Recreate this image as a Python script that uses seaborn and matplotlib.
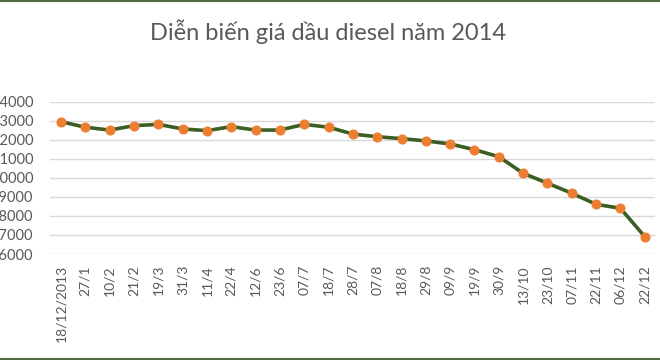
import matplotlib.pyplot as plt
import seaborn as sns
import pandas as pd
from matplotlib.lines import Line2D

dates = ['18/12/2013', '27/1', '10/2', '21/2', '19/3', '31/3', '11/4', '22/4',
         '12/6', '23/6', '07/7', '18/7', '28/7', '07/8', '18/8', '29/8',
         '09/9', '19/9', '30/9', '13/10', '23/10', '07/11', '22/11', '06/12',
         '22/12']
prices = [22950, 22660, 22510, 22740, 22810, 22570, 22480, 22690,
          22510, 22510, 22810, 22660, 22300, 22160, 22060, 21940,
          21780, 21480, 21110, 20240, 19720, 19190, 18610, 18400,
          16910]
yticks = [16000, 17000, 18000, 19000, 20000, 21000, 22000, 23000, 24000]

df = pd.DataFrame({'pos': range(len(dates)), 'price': prices})

sns.set_style('white')
plt.rcParams['font.family'] = ['Lato', 'DejaVu Sans']

fig = plt.figure(figsize=(6.6, 3.6), dpi=100)
ax = fig.add_axes([50 / 660, 1 - 254 / 360, 605 / 660, 152.3 / 360])

sns.lineplot(data=df, x='pos', y='price', ax=ax, color='#3b5e23',
             linewidth=2.6, marker='o', markersize=6.5,
             markerfacecolor='#ed7d31', markeredgecolor='#ed7d31')

ax.set_ylim(16000, 24000)
ax.set_xlim(-0.45, len(dates) - 1 + 0.42)
ax.set_yticks(yticks)
ax.set_yticklabels([str(v) for v in yticks])
ax.set_xticks(range(len(dates)))
ax.set_xticklabels(dates, rotation=90)
ax.grid(axis='y', color='#d9d9d9', linewidth=1)
ax.set_axisbelow(True)
for s in ax.spines.values():
    s.set_visible(False)
ax.tick_params(axis='y', length=0, pad=12, labelsize=10.5, labelcolor='#595959')
ax.tick_params(axis='x', length=0, pad=8, labelsize=10, labelcolor='#595959')
ax.set_xlabel('')
ax.set_ylabel('')

fig.text(0.497, 1 - 32 / 360, 'Diễn biến giá dầu diesel năm 2014',
         ha='center', va='center', fontsize=17, color='#595959')

fig.add_artist(Line2D([0, 1], [0.998, 0.998], color='#4f6b3a', linewidth=1.5))
fig.add_artist(Line2D([0, 1], [0.004, 0.004], color='#4f6b3a', linewidth=1.5))

fig.savefig('out.png', dpi=100)
